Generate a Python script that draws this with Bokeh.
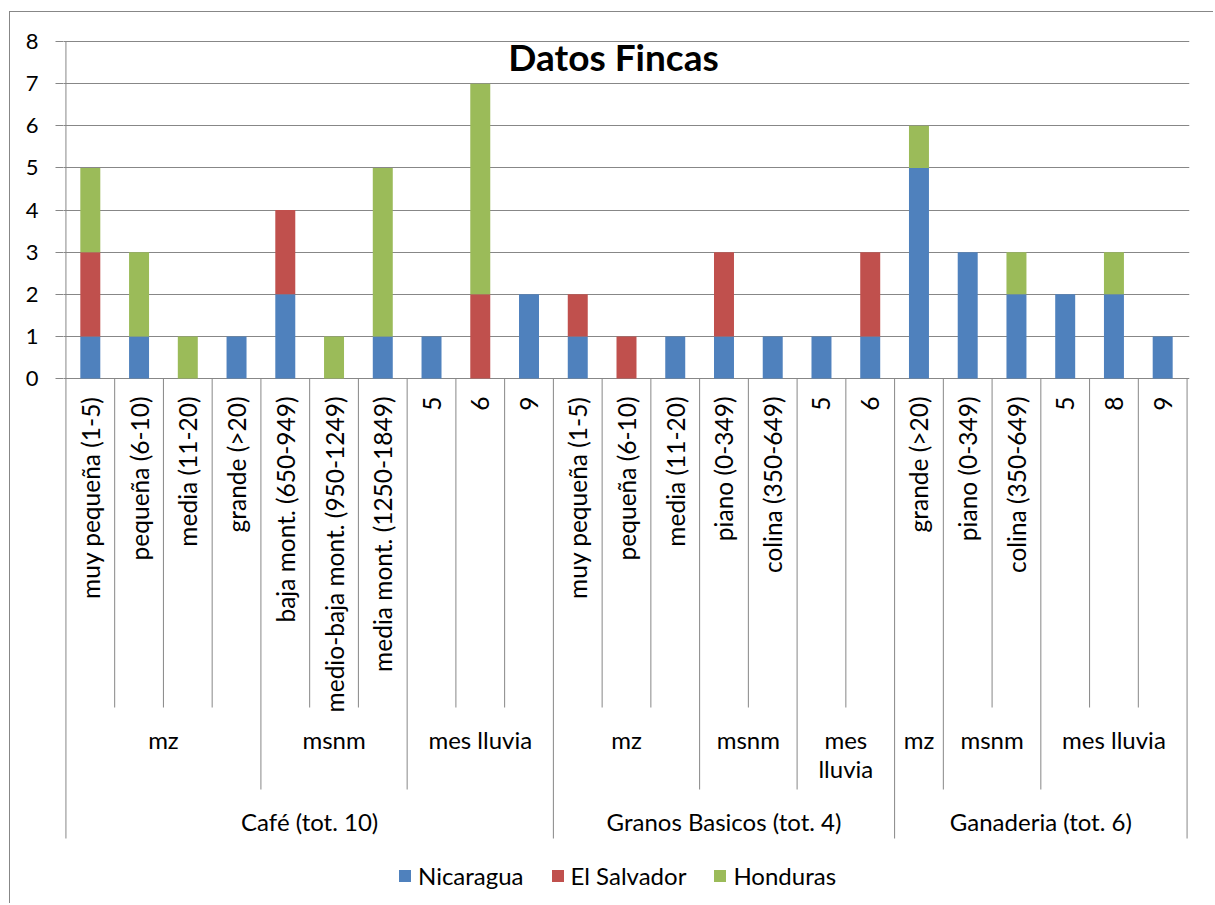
import math
from bokeh.plotting import figure
from bokeh.models import (FactorRange, Range1d, ColumnDataSource, FixedTicker,
                          Legend, LegendItem, Label)
from bokeh.core.properties import value
from bokeh.embed import file_html
from bokeh.resources import INLINE

# ---------------- data ----------------
crops = (["Café (tot. 10)"] * 10 + ["Granos Basicos (tot. 4)"] * 7
         + ["Ganaderia (tot. 6)"] * 6)
variables = (["mz"] * 4 + ["msnm"] * 3 + ["mes lluvia"] * 3
             + ["mz"] * 3 + ["msnm"] * 2 + ["mes lluvia"] * 2
             + ["mz"] * 1 + ["msnm"] * 2 + ["mes lluvia"] * 3)
classes = ["muy pequeña (1-5)", "pequeña (6-10)", "media (11-20)", "grande (>20)",
           "baja mont. (650-949)", "medio-baja mont. (950-1249)", "media mont. (1250-1849)",
           "5", "6", "9",
           "muy pequeña (1-5)", "pequeña (6-10)", "media (11-20)",
           "piano (0-349)", "colina (350-649)",
           "5", "6",
           "grande (>20)",
           "piano (0-349)", "colina (350-649)",
           "5", "8", "9"]
nicaragua   = [1, 1, 0, 1, 2, 0, 1, 1, 0, 2, 1, 0, 1, 1, 1, 1, 1, 5, 3, 2, 2, 2, 1]
el_salvador = [2, 0, 0, 0, 2, 0, 0, 0, 2, 0, 1, 1, 0, 2, 0, 0, 2, 0, 0, 0, 0, 0, 0]
honduras    = [2, 2, 1, 0, 0, 1, 4, 0, 5, 0, 0, 0, 0, 0, 0, 0, 0, 1, 0, 1, 0, 1, 0]
series = ["Nicaragua", "El Salvador", "Honduras"]
colors = ["#4F81BD", "#C0504D", "#9BBB59"]
y_ticks = [0, 1, 2, 3, 4, 5, 6, 7, 8]
title_text = "Datos Fincas"

# ---------------- layout ----------------
FONT = "Lato"
GRAY = "#878787"
MARGIN_L, MARGIN_T = 9, 11
ORIGIN_X, ORIGIN_Y = MARGIN_L + 1, MARGIN_T + 1
W, H = 1204, 892
FRAME_L, FRAME_R, FRAME_T, FRAME_B = 63, 1189, 39, ORIGIN_Y + H
MB_L, MB_R = FRAME_L - ORIGIN_X, ORIGIN_X + W - FRAME_R
MB_T, MB_B = FRAME_T - ORIGIN_Y, 0
PPU = 42.125                     # pixels per value unit
Y_END = 8 + (41 - FRAME_T) / PPU
Y_START = Y_END - (FRAME_B - FRAME_T) / PPU
PAD = 0.05
N = len(classes)
X_START, X_END = -PAD / 2, N + PAD / 2


def ypx(py):
    return Y_END - (py - FRAME_T) / PPU


def xpx(px):
    return X_START + (px - FRAME_L) / (FRAME_R - FRAME_L) * (X_END - X_START)


factors = list(zip(crops, variables, classes))
x_range = FactorRange(*factors, factor_padding=0, subgroup_padding=0, group_padding=0,
                      range_padding=PAD, range_padding_units="absolute")

p = figure(width=W, height=H, x_range=x_range, y_range=Range1d(Y_START, Y_END),
           output_backend="svg", toolbar_location=None, x_axis_location=None,
           min_border_left=MB_L, min_border_right=MB_R, min_border_top=MB_T,
           min_border_bottom=MB_B)
p.styles = {"border-top": "1px solid " + GRAY, "border-left": "1px solid " + GRAY,
            "margin-left": f"{MARGIN_L}px", "margin-top": f"{MARGIN_T}px"}
p.outline_line_color = None
p.background_fill_color = "white"
p.border_fill_color = "white"
p.xgrid.visible = False

ticker = FixedTicker(ticks=y_ticks)
p.yaxis.ticker = ticker
p.yaxis.bounds = (0, 8)
p.yaxis.axis_line_color = None
p.yaxis.major_tick_out = 8
p.yaxis.major_tick_in = 0
p.yaxis.major_tick_line_color = GRAY
p.yaxis.minor_tick_line_color = None
p.yaxis.major_label_standoff = 17
p.yaxis.major_label_text_font = FONT
p.yaxis.major_label_text_font_size = "22px"
p.yaxis.major_label_text_color = "black"
p.ygrid.ticker = ticker
p.ygrid.bounds = (0, 8)
p.ygrid.grid_line_color = GRAY

# bars
src = ColumnDataSource(dict(x=factors, Nicaragua=nicaragua,
                            **{"El Salvador": el_salvador}, Honduras=honduras))
rs = p.vbar_stack(series, x="x", width=0.41, color=colors, line_color=None, source=src)

# category separators
seg = dict(x0=[], x1=[], y0=[], y1=[])
bottom_leaf, bottom_mid, bottom_top = ypx(707), ypx(789), ypx(838)
for i in range(N + 1):
    if i == 0 or i == N or crops[i] != crops[i - 1]:
        yb = bottom_top
    elif variables[i] != variables[i - 1]:
        yb = bottom_mid
    else:
        yb = bottom_leaf
    seg["x0"].append(i); seg["x1"].append(i)
    seg["y0"].append(8 if i == 0 else 0); seg["y1"].append(yb)
p.segment(x0="x0", x1="x1", y0="y0", y1="y1", source=ColumnDataSource(seg),
          line_color=GRAY, line_width=1)

# leaf labels (rotated)
p.text(x=factors, y=[ypx(396)] * N, text=classes, angle=math.pi / 2,
       text_align="right", text_baseline="middle", text_font=value(FONT),
       text_font_size="24.5px", text_color="black")


def runs(keys):
    out = []
    start = 0
    for i in range(1, len(keys) + 1):
        if i == len(keys) or keys[i] != keys[start]:
            out.append((keys[start], start, i))
            start = i
    return out


mid_runs = runs(list(zip(crops, variables)))
mx, my, mt = [], [], []
LINE_H = 29
for (c, v), s, e in mid_runs:
    txt = v.replace(" ", "\n") if (e - s) <= 2 and " " in v else v
    nl = txt.count("\n")
    mx.append((s + e) / 2); mt.append(txt)
    my.append(ypx(739 + nl * LINE_H / 2))
p.text(x=mx, y=my, text=mt, text_align="center", text_baseline="middle",
       text_font=value(FONT), text_font_size="24px", text_color="black",
       text_line_height=1.0)

top_runs = runs(crops)
p.text(x=[(s + e) / 2 for _, s, e in top_runs], y=[ypx(821)] * len(top_runs),
       text=[c for c, _, _ in top_runs], text_align="center", text_baseline="middle",
       text_font=value(FONT), text_font_size="24px", text_color="black")

# title
p.add_layout(Label(x=xpx(613), y=ypx(56), text=title_text, text_align="center",
                   text_baseline="alphabetic", text_font=FONT, text_font_style="bold",
                   text_font_size="37px", text_color="black"))

# legend
legend = Legend(items=[LegendItem(label=s, renderers=[r]) for s, r in zip(series, rs)],
                orientation="horizontal", location=(397 - FRAME_L, FRAME_B - 890),
                glyph_width=15, glyph_height=15, label_standoff=6, spacing=26,
                padding=0, margin=0, border_line_color=None, background_fill_alpha=0,
                label_text_font=FONT, label_text_font_size="24px",
                label_text_color="black")
p.add_layout(legend)

open("out.html", "w").write(file_html(p, INLINE))
